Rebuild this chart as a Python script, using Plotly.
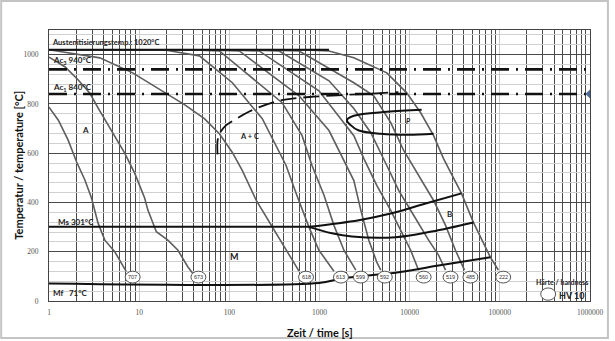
import numpy as np
import plotly.graph_objects as go

# ---------------- data ----------------
# cooling curves: time [s], temperature [°C]
t_707 = [1, 1.27, 1.63, 2.02, 2.5, 2.96, 3.5, 4.16, 5.36, 7.2]
T_707 = [787, 734, 653, 565, 491, 418, 316, 247, 200, 119]
t_673 = [1, 1.5, 2.11, 2.84, 3.51, 4.93, 6.91, 8.92, 11.5, 12.5, 15.5, 20.8, 26.8, 34.6, 39]
T_673 = [990, 951, 897, 843, 783, 694, 600, 519, 418, 369, 281, 247, 207, 139, 114]
t_618 = [1, 3.66, 8.47, 16.8, 31.8, 52.9, 77.6, 108, 139, 199, 330, 426, 593]
T_618 = [1020, 987, 926, 861, 797, 740, 679, 603, 530, 408, 275, 206, 121]
t_613 = [1, 20, 46.6, 108, 232, 357, 426, 550, 766, 986, 1446]
T_613 = [1020, 1018, 995, 886, 740, 603, 550, 437, 299, 206, 121]
t_599 = [1, 40, 77.6, 385, 641, 826, 1122, 1446, 1866, 2531]
T_599 = [1020, 1019, 1015, 805, 671, 550, 429, 307, 206, 125]
t_592 = [1, 60, 129, 593, 1274, 1866, 2404, 2875, 3524, 4316, 4783]
T_592 = [1020, 1019, 1015, 833, 692, 570, 489, 368, 247, 158, 125]
t_560 = [1, 100, 214, 986, 2404, 3105, 4316, 6166, 7955, 10260, 12560]
T_560 = [1020, 1019, 1015, 853, 671, 578, 469, 368, 287, 206, 125]
t_519 = [1, 150, 357, 1274, 2404, 3707, 5575, 7551, 11070, 16220, 20900, 24990]
T_519 = [1020, 1019, 1015, 894, 781, 683, 550, 449, 348, 247, 186, 125]
t_485 = [1, 250, 593, 2404, 4000, 6166, 8585, 12560, 18420, 24990, 32210, 40550]
T_485 = [1020, 1019, 1015, 886, 833, 724, 611, 510, 408, 307, 206, 125]
t_222 = [1, 700, 1274, 2404, 5575, 9265, 13240, 18420, 23750, 30650, 37550, 50900, 78500, 96200]
T_222 = [1020, 1019, 1015, 987, 926, 845, 764, 671, 578, 497, 437, 319, 178, 126]

curves = [(t_707, T_707), (t_673, T_673), (t_618, T_618), (t_613, T_613), (t_599, T_599),
          (t_592, T_592), (t_560, T_560), (t_519, T_519), (t_485, T_485), (t_222, T_222)]

# hardness labels
hv_text = ["707", "673", "618", "613", "599", "592", "560", "519", "485", "222"]
hv_t = [8.47, 45.4, 709, 1730, 2877, 5300, 14290, 28400, 47200, 109000]
hv_T = [97] * 10

# characteristic temperatures
T_aust = 1020
T_ac3 = 940
T_ac1 = 840
T_ms = 301
T_mf = 71

aust_t = [1, 1274]
ms_t = [1, 766]
b_up_t = [766, 2731, 6324, 15030, 37550]
b_up_T = [301, 328, 356, 396, 437]
b_lo_t = [766, 1374, 2286, 7000, 17500, 50900]
b_lo_T = [301, 275, 262, 259, 282, 319]
mf_t = [1, 986, 1600, 2119, 7551, 22600, 78500]
mf_T = [71, 73, 88, 95, 117, 146, 178]
c_t = [74, 74, 78, 90, 120, 180, 380, 770, 1800, 3500, 7500]
c_T = [595, 650, 680, 710, 740, 775, 815, 828, 836, 841, 848]
p_t = [13590, 5575, 2404, 2014, 2200, 2731, 4783, 9750, 18420]
p_T = [776, 768, 752, 735, 715, 692, 679, 675, 679]

x_ticks = [1, 10, 100, 1000, 10000, 100000, 1000000]
x_ticktext = ["1", "10", "100", "1000", "10000", "100000", "1000000"]

# ---------------- figure ----------------
fig = go.Figure()
CURVE = "#5e5e5e"
for tt, TT in curves:
    fig.add_trace(go.Scatter(x=tt, y=TT, mode="lines", line=dict(color=CURVE, width=1.6),
                             hoverinfo="skip", showlegend=False))

BL = "#111111"
DASHDOT = "18px,7px,2px,7px"
fig.add_trace(go.Scatter(x=aust_t, y=[T_aust, T_aust], mode="lines", line=dict(color=BL, width=2)))
fig.add_trace(go.Scatter(x=[x_ticks[0], x_ticks[-1]], y=[T_ac3, T_ac3], mode="lines",
                         line=dict(color=BL, width=2.6, dash=DASHDOT)))
fig.add_trace(go.Scatter(x=[x_ticks[0], x_ticks[-1]], y=[T_ac1, T_ac1], mode="lines",
                         line=dict(color=BL, width=2.6, dash=DASHDOT)))
fig.add_trace(go.Scatter(x=[x_ticks[-1]], y=[T_ac1], mode="markers",
                         marker=dict(symbol="diamond", size=7, color="#4a6898")))
fig.add_trace(go.Scatter(x=ms_t, y=[T_ms, T_ms], mode="lines", line=dict(color=BL, width=2)))
fig.add_trace(go.Scatter(x=b_up_t, y=b_up_T, mode="lines", line=dict(color=BL, width=2, shape="spline")))
fig.add_trace(go.Scatter(x=b_lo_t, y=b_lo_T, mode="lines", line=dict(color=BL, width=2, shape="spline")))
fig.add_trace(go.Scatter(x=mf_t, y=mf_T, mode="lines", line=dict(color=BL, width=2, shape="spline")))
fig.add_trace(go.Scatter(x=c_t, y=c_T, mode="lines", line=dict(color=BL, width=1.8, dash="16px,7px", shape="spline")))
fig.add_trace(go.Scatter(x=p_t, y=p_T, mode="lines", line=dict(color=BL, width=2, shape="spline")))

# hardness ellipses (shapes on log axis use data values), drawn above the lines
half_w = 10 ** (7.5 / 90.5)
shapes = []
for tx, Ty in zip(hv_t, hv_T):
    shapes.append(dict(type="circle", xref="x", yref="y", x0=tx / half_w, x1=tx * half_w,
                       y0=Ty - 24, y1=Ty + 24, line=dict(color="#555", width=1), fillcolor="white",
                       layer="above"))
shapes.append(dict(type="circle", xref="x", yref="y", x0=343600 / half_w, x1=343600 * half_w,
                   y0=28 - 25, y1=28 + 25, line=dict(color="#555", width=1), fillcolor="white",
                   layer="above"))
shapes.append(dict(type="rect", xref="paper", yref="paper", x0=-48 / 543, x1=561 / 543,
                   y0=-37 / 271, y1=300 / 271, line=dict(color="#c4c4c4", width=2)))

# hardness values as annotations (drawn above shapes)
for txt, tx, Ty in zip(hv_text, hv_t, hv_T):
    fig.add_annotation(x=np.log10(tx), y=Ty, text=txt, showarrow=False,
                       xanchor="center", yanchor="middle",
                       font=dict(size=5.5, color="#333", family="Liberation Sans"))


def ann(text, t, T, size=8, xanchor="left", italic=False):
    fig.add_annotation(x=np.log10(t), y=T, text=text, showarrow=False, xanchor=xanchor,
                       font=dict(size=size, color="#222", family="Lato", weight="bold",
                                 style="italic" if italic else "normal"))


ann("Austenitisierungstemp.: 1020°C", 1.03, 1048, size=7.5)
ann("Ac<sub>3</sub> 940°C", 1.05, 975)
ann("Ac<sub>1</sub> 840°C", 1.05, 866)
ann("Ms 301°C", 1.2, 320)
ann("Mf   71°C", 1.05, 32)
ann("A", 2.54, 694, xanchor="center")
ann("A + C", 166, 667, xanchor="center", size=7.5)
ann("P", 9750, 732, xanchor="center", italic=True, size=7)
ann("B", 27700, 352, xanchor="center")
ann("M", 113, 182, xanchor="center", size=9)
ann("Härte / hardness", 490000, 77, xanchor="center", size=7)
ann("HV 10", 617000, 24, xanchor="center", size=9)

fig.add_annotation(xref="paper", yref="paper", x=0.5, y=-0.115, yanchor="middle", xanchor="center",
                   text="<b>Zeit / time [s]</b>", showarrow=False,
                   font=dict(size=11, family="Lato", color="#111"))
fig.add_annotation(xref="paper", yref="paper", x=-0.057, y=0.5, textangle=-90,
                   xanchor="center", yanchor="middle",
                   text="<b>Temperatur / temperature [°C]</b>", showarrow=False,
                   font=dict(size=11, family="Lato", color="#111"))

fig.update_layout(
    width=615, height=341, margin=dict(l=49, r=23, t=30, b=40),
    paper_bgcolor="white", plot_bgcolor="white", showlegend=False,
    shapes=shapes,
    xaxis=dict(type="log", range=[0, 6], tickvals=x_ticks, ticktext=x_ticktext,
               showgrid=True, gridcolor="#c8c8c8", gridwidth=1,
               minor=dict(tickvals=[m * d for d in x_ticks[:-1] for m in range(2, 10)],
                          showgrid=True, gridcolor="#4a4a4a", gridwidth=1.2),
               showline=True, mirror=True, linecolor="#444", linewidth=1,
               ticks="", ticklabelstandoff=4, zeroline=False,
               tickfont=dict(size=7.5, color="#555", family="Liberation Serif")),
    yaxis=dict(range=[0, 1100], tickvals=[0, 200, 400, 600, 800, 1000],
               showgrid=True, gridcolor="#4a4a4a", gridwidth=1.2,
               minor=dict(dtick=40, showgrid=True, gridcolor="#d0d0d0", gridwidth=1),
               showline=True, mirror=True, linecolor="#444", linewidth=1,
               ticks="", ticklabelstandoff=8, zeroline=False,
               tickfont=dict(size=7.5, color="#555", family="Liberation Serif")),
)
fig.write_html("out.html")
